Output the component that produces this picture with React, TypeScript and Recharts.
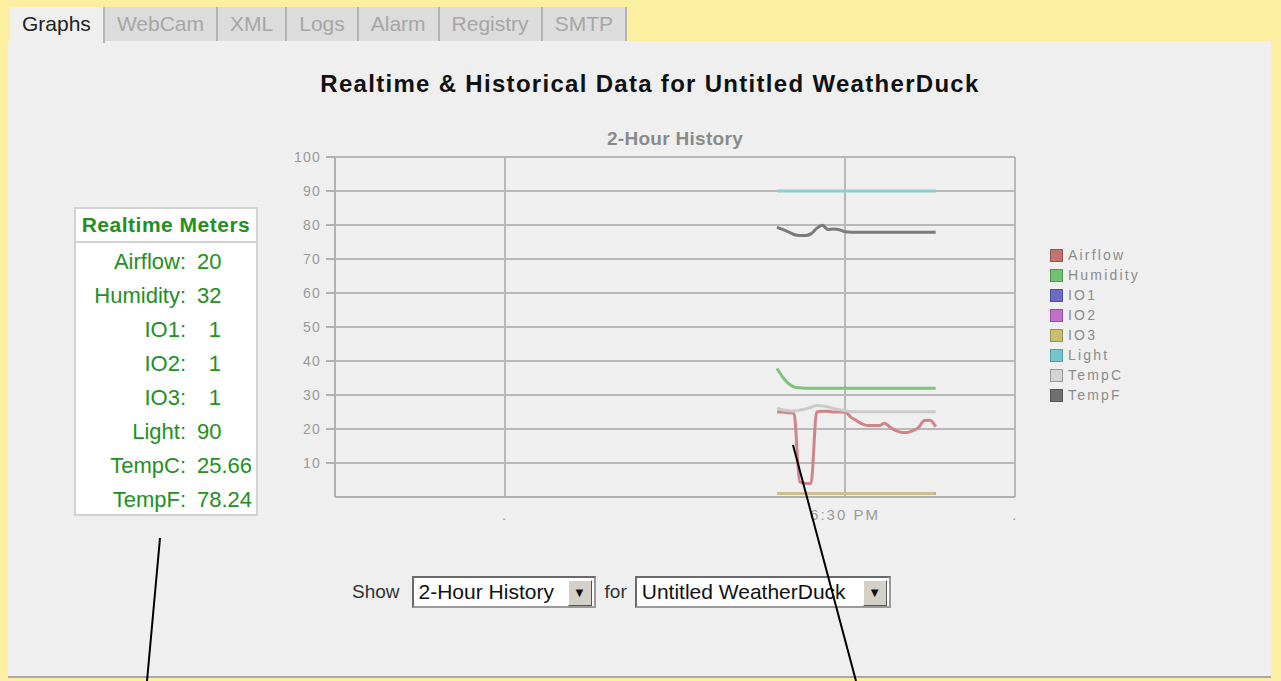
import { LineChart, Line, XAxis, YAxis, CartesianGrid } from 'recharts'

const FONT = 'Arial, "Liberation Sans", Helvetica, sans-serif'

// sample times, minutes after 5:00 PM (the axis spans 5:00 - 7:00 PM)
const times = [78, 79, 80, 81, 82, 83, 84, 85, 86, 87, 88, 89, 90, 91, 92, 93, 94, 95, 96, 97, 98, 99, 100, 101, 102, 103, 104, 105, 106]

const airflow = [25, 25, 24.8, 24.6, 4.5, 4, 4, 25, 25.2, 25.2, 25, 25, 25, 23.5, 22.5, 21.5, 21, 21, 21, 21.7, 20.5, 19.5, 19, 19, 19.5, 20.5, 22.5, 22.6, 20.7]
const humidity = [37.8, 35.3, 33.4, 32.4, 32.1, 32, 32, 32, 32, 32, 32, 32, 32, 32, 32, 32, 32, 32, 32, 32, 32, 32, 32, 32, 32, 32, 32, 32, 32]
const io1 = [1, 1, 1, 1, 1, 1, 1, 1, 1, 1, 1, 1, 1, 1, 1, 1, 1, 1, 1, 1, 1, 1, 1, 1, 1, 1, 1, 1, 1]
const io2 = [1, 1, 1, 1, 1, 1, 1, 1, 1, 1, 1, 1, 1, 1, 1, 1, 1, 1, 1, 1, 1, 1, 1, 1, 1, 1, 1, 1, 1]
const io3 = [1, 1, 1, 1, 1, 1, 1, 1, 1, 1, 1, 1, 1, 1, 1, 1, 1, 1, 1, 1, 1, 1, 1, 1, 1, 1, 1, 1, 1]
const light = [90, 90, 90, 90, 90, 90, 90, 90, 90, 90, 90, 90, 90, 90, 90, 90, 90, 90, 90, 90, 90, 90, 90, 90, 90, 90, 90, 90, 90]
const tempC = [26.1, 25.6, 25.4, 25.3, 25.5, 25.9, 26.4, 26.9, 26.8, 26.5, 26.0, 25.7, 25.4, 25.1, 25.1, 25.1, 25.1, 25.1, 25.1, 25.1, 25.1, 25.1, 25.1, 25.1, 25.1, 25.1, 25.1, 25.1, 25.1]
const tempF = [79.3, 78.7, 78.0, 77.2, 76.9, 76.9, 77.4, 79.0, 79.9, 78.7, 78.8, 78.6, 78.0, 77.9, 77.9, 77.9, 77.9, 77.9, 77.9, 77.9, 77.9, 77.9, 77.9, 77.9, 77.9, 77.9, 77.9, 77.9, 77.9]

const seriesNames = ['Airflow', 'Humidity', 'IO1', 'IO2', 'IO3', 'Light', 'TempC', 'TempF']
const seriesValues = [airflow, humidity, io1, io2, io3, light, tempC, tempF]

const yTicks = [10, 20, 30, 40, 50, 60, 70, 80, 90, 100]
const xTicks = [30, 90, 120]
const xTickLabels = ['.', '6:30 PM', '.']

const meterNames = ['Airflow:', 'Humidity:', 'IO1:', 'IO2:', 'IO3:', 'Light:', 'TempC:', 'TempF:']
const meterValues = ['20', '32', '1', '1', '1', '90', '25.66', '78.24']

const tabNames = ['Graphs', 'WebCam', 'XML', 'Logs', 'Alarm', 'Registry', 'SMTP']

const lineColors: Record<string, string> = {
  Airflow: '#d08488',
  Humidity: '#7cc47c',
  IO1: '#7070c8',
  IO2: '#c070c8',
  IO3: '#cdbd8a',
  Light: '#8ccfcf',
  TempC: '#cacaca',
  TempF: '#7a7a7a',
}

const swatchColors: Record<string, [string, string]> = {
  Airflow: ['#c4746e', '#985450'],
  Humidity: ['#70c070', '#509850'],
  IO1: ['#6c6cc4', '#50509a'],
  IO2: ['#c070c8', '#985098'],
  IO3: ['#c8c070', '#9a9450'],
  Light: ['#70c8cc', '#50a0a4'],
  TempC: ['#d4d4d4', '#999999'],
  TempF: ['#707070', '#555555'],
}

const data = times.map((t, i) => {
  const row: Record<string, number> = { t }
  seriesNames.forEach((name, k) => {
    row[name] = seriesValues[k][i]
  })
  return row
})

const GREEN = '#229022'

function Select({ label, width }: { label: string; width: number }) {
  return (
    <div
      style={{
        width,
        height: 28,
        background: '#fff',
        borderTop: '2px solid #6a6a6a',
        borderLeft: '2px solid #6a6a6a',
        borderBottom: '2px solid #9a9a9a',
        borderRight: '2px solid #9a9a9a',
        position: 'relative',
        fontSize: 21,
        color: '#111',
        lineHeight: '28px',
        paddingLeft: 5,
        boxSizing: 'content-box',
      }}
    >
      {label}
      <div
        style={{
          position: 'absolute',
          right: 2,
          top: 2,
          width: 22,
          height: 24,
          background: '#d4d0c8',
          borderRight: '1px solid #555',
          borderBottom: '1px solid #555',
          borderTop: '1px solid #fff',
          borderLeft: '1px solid #fff',
          fontSize: 13,
          lineHeight: '24px',
          textAlign: 'center',
        }}
      >
        ▼
      </div>
    </div>
  )
}

export default function App() {
  return (
    <div
      style={{
        position: 'absolute',
        left: 0,
        top: 0,
        width: 1281,
        height: 681,
        background: '#fdefa2',
        overflow: 'hidden',
        fontFamily: FONT,
      }}
    >
      {/* panel */}
      <div
        style={{
          position: 'absolute',
          left: 8,
          top: 41,
          width: 1263,
          height: 635,
          background: '#efefef',
          borderBottom: '2px solid #a8a8a8',
        }}
      />

      {/* tabs */}
      <div style={{ position: 'absolute', left: 10, top: 7, display: 'flex' }}>
        {tabNames.map((name, i) => (
          <div
            key={name}
            style={{
              height: i === 0 ? 36 : 34,
              padding: '0 12px',
              lineHeight: '34px',
              fontSize: 21,
              color: i === 0 ? '#222' : '#a6a6a6',
              background: i === 0 ? '#efefef' : '#dcdcdc',
              borderRight: '2px solid #b4b4b4',
            }}
          >
            {name}
          </div>
        ))}
      </div>

      {/* page title */}
      <div
        style={{
          position: 'absolute',
          left: 150,
          width: 1000,
          top: 70,
          textAlign: 'center',
          fontSize: 24,
          fontWeight: 'bold',
          letterSpacing: 1.3,
          color: '#111',
        }}
      >
        Realtime &amp; Historical Data for Untitled WeatherDuck
      </div>

      {/* realtime meters */}
      <div
        style={{
          position: 'absolute',
          left: 74,
          top: 207,
          width: 180,
          height: 305,
          background: '#fff',
          border: '2px solid #d2d2d2',
          color: GREEN,
        }}
      >
        <div
          style={{
            height: 32,
            lineHeight: '32px',
            borderBottom: '2px solid #d2d2d2',
            textAlign: 'center',
            fontWeight: 'bold',
            fontSize: 21,
            letterSpacing: 0.5,
          }}
        >
          Realtime Meters
        </div>
        <div style={{ paddingTop: 2 }}>
          {meterNames.map((name, i) => (
            <div key={name} style={{ display: 'flex', height: 34, lineHeight: '34px', fontSize: 22 }}>
              <div style={{ width: 110, textAlign: 'right' }}>{name}</div>
              <div style={{ marginLeft: 11 }}>
                <span style={{ display: 'inline-block', minWidth: 24, textAlign: 'right' }}>{meterValues[i]}</span>
              </div>
            </div>
          ))}
        </div>
      </div>

      {/* chart title */}
      <div
        style={{
          position: 'absolute',
          left: 475,
          width: 400,
          top: 128,
          textAlign: 'center',
          fontSize: 19,
          fontWeight: 'bold',
          letterSpacing: 0.3,
          color: '#8a8a8a',
        }}
      >
        2-Hour History
      </div>

      {/* chart */}
      <div style={{ position: 'absolute', left: 255, top: 120 }}>
        <LineChart width={765} height={410} data={data} margin={{ top: 37, right: 5, bottom: 3, left: 35 }}>
          <CartesianGrid stroke="#b8b8b8" strokeWidth={2} />
          <XAxis
            dataKey="t"
            type="number"
            domain={[0, 120]}
            ticks={xTicks}
            height={30}
            tickLine={false}
            tickMargin={6}
            axisLine={{ stroke: '#b0b0b0', strokeWidth: 2 }}
            tickFormatter={(v: number) => xTickLabels[xTicks.indexOf(v)] ?? ''}
            tick={{ fill: '#9a9a9a', fontSize: 15, letterSpacing: 2, fontFamily: FONT }}
          />
          <YAxis
            type="number"
            domain={[0, 100]}
            ticks={yTicks}
            width={45}
            interval={0}
            tickSize={9}
            tickMargin={5}
            tickLine={{ stroke: '#b0b0b0', strokeWidth: 2 }}
            axisLine={{ stroke: '#b0b0b0', strokeWidth: 2 }}
            tick={{ fill: '#9a9a9a', fontSize: 14, letterSpacing: 1.2, fontFamily: FONT }}
          />
          {seriesNames.map((name) => (
            <Line
              key={name}
              dataKey={name}
              type="monotone"
              stroke={lineColors[name]}
              strokeWidth={3}
              dot={false}
              activeDot={false}
              isAnimationActive={false}
            />
          ))}
        </LineChart>
      </div>

      {/* legend */}
      <div style={{ position: 'absolute', left: 1050, top: 245 }}>
        {seriesNames.map((name) => (
          <div key={name} style={{ display: 'flex', alignItems: 'center', height: 20 }}>
            <div
              style={{
                width: 11,
                height: 11,
                background: swatchColors[name][0],
                border: `1px solid ${swatchColors[name][1]}`,
                marginRight: 5,
              }}
            />
            <span style={{ fontSize: 14, letterSpacing: 2.2, color: '#8c8c8c' }}>{name}</span>
          </div>
        ))}
      </div>

      {/* controls */}
      <div
        style={{
          position: 'absolute',
          left: 352,
          top: 576,
          display: 'flex',
          alignItems: 'center',
          fontSize: 19,
          color: '#333',
        }}
      >
        <span style={{ marginRight: 12 }}>Show</span>
        <Select label="2-Hour History" width={175} />
        <span style={{ margin: '0 8px 0 9px' }}>for</span>
        <Select label="Untitled WeatherDuck" width={247} />
      </div>

      {/* annotation strokes drawn over the screenshot */}
      <svg
        width={1281}
        height={681}
        style={{ position: 'absolute', left: 0, top: 0, pointerEvents: 'none' }}
      >
        <line x1={160} y1={538} x2={147} y2={681} stroke="#000" strokeWidth={2} />
        <line x1={793} y1={445} x2={856} y2={681} stroke="#000" strokeWidth={2} />
      </svg>
    </div>
  )
}
